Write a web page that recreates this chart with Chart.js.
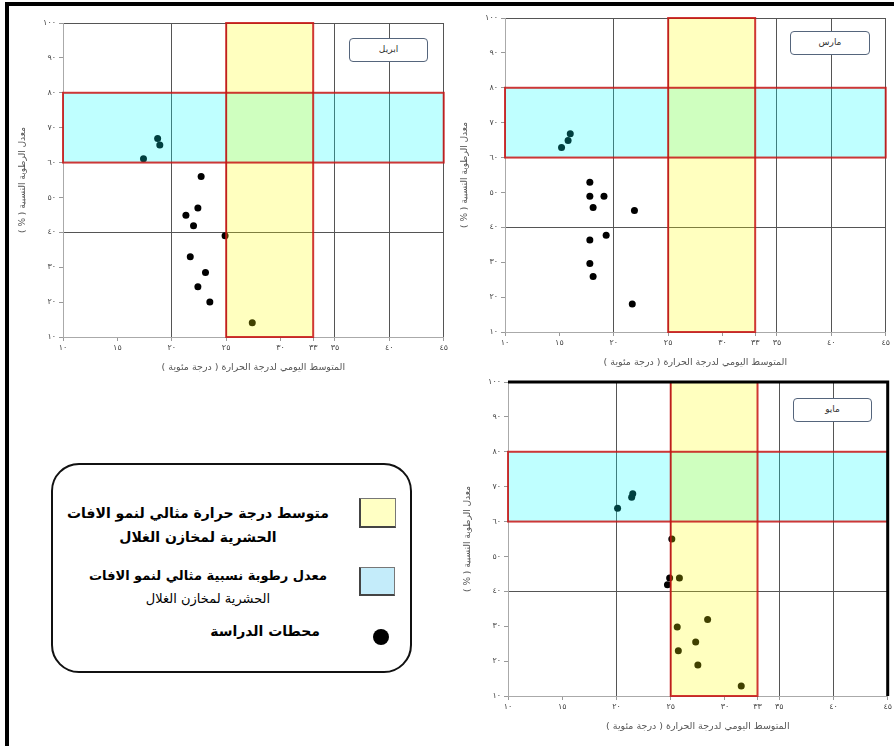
<!DOCTYPE html>
<html lang="ar">
<head>
<meta charset="utf-8">
<script src="https://cdn.jsdelivr.net/npm/chart.js@4.4.1/dist/chart.umd.min.js"></script>
<style>
    body { margin: 0; width: 894px; height: 746px; background: #fff; position: relative; overflow: hidden; font-family: "DejaVu Sans", sans-serif; }
    .abs { position: absolute; }
    .tag { position: absolute; border: 1.5px solid #55657c; border-radius: 4px; background: #fff; font-size: 9px; color: #333; text-align: center; box-sizing: border-box; direction: rtl; }
    .legend-text { position: absolute; direction: rtl; text-align: center; color: #000; }
</style>
</head>
<body>

<!-- outer frame (left + top) -->
<div class="abs" style="left:5px;top:2px;width:4px;height:744px;background:#000"></div>
<div class="abs" style="left:5px;top:2px;width:889px;height:4px;background:#000"></div>

<canvas id="april" class="abs" dir="rtl" width="440" height="372" style="left:10px;top:8px"></canvas>
<canvas id="march" class="abs" dir="rtl" width="440" height="372" style="left:452px;top:3px"></canvas>
<canvas id="may" class="abs" dir="rtl" width="439" height="372" style="left:455px;top:367px"></canvas>

<div class="tag" style="left:349px;top:38px;width:79px;height:24px;line-height:21px">ابريل</div>
<div class="tag" style="left:790px;top:31px;width:80px;height:24px;line-height:21px">مارس</div>
<div class="tag" style="left:793px;top:398px;width:79px;height:24px;line-height:21px">مايو</div>

<!-- legend -->
<div class="abs" style="left:51px;top:463px;width:361px;height:210px;border:2px solid #111;border-radius:28px;box-sizing:border-box"></div>
<div class="abs" style="left:359px;top:498px;width:37px;height:30px;background:#ffffc4;border:1px solid #777;border-left:2px solid #444;border-bottom:2px solid #444;box-sizing:border-box"></div>
<div class="abs" style="left:359px;top:567px;width:36px;height:29px;background:#c4ecfa;border:1px solid #777;border-left:2px solid #444;border-bottom:2px solid #444;box-sizing:border-box"></div>
<div class="abs" style="left:373px;top:629px;width:16px;height:16px;border-radius:50%;background:#000"></div>

<div class="legend-text" style="left:48px;top:501px;width:300px;font-size:14px;font-weight:bold;line-height:24px">متوسط درجة حرارة مثالي لنمو الافات<br>الحشرية لمخازن الغلال</div>
<div class="legend-text" style="left:58px;top:564px;width:300px;line-height:22px"><b style="font-size:13px">معدل رطوبة نسبية مثالي لنمو الافات</b><br><span style="font-size:13px">الحشرية لمخازن الغلال</span></div>
<div class="legend-text" style="left:150px;top:623px;width:170px;font-size:14px;font-weight:bold;text-align:right">محطات الدراسة</div>

<script>
// محاور
const xTicks = [10, 15, 20, 25, 30, 33, 35, 40, 45];
const yTicks = [10, 20, 30, 40, 50, 60, 70, 80, 90, 100];
const xGridLines = [20, 25, 35, 40, 45];
const yGridLines = [40, 100];

// النطاق المثالي
const tempRange = [25, 33];
const humRange = [60, 80];

// ابريل
const aprilTemp = [18.7, 18.9, 17.4, 22.7, 22.4, 21.3, 22.0, 24.9, 21.7, 23.1, 22.4, 23.5, 27.4];
const aprilHum  = [66.9, 65.0, 61.1, 56.0, 47.0, 44.9, 41.9, 39.0, 33.0, 28.5, 24.4, 20.0, 14.1];

// مارس
const marchTemp = [16.0, 15.8, 15.2, 17.8, 17.8, 19.1, 18.1, 21.9, 19.3, 17.8, 17.8, 18.1, 21.7];
const marchHum  = [66.8, 64.9, 62.9, 52.9, 48.9, 48.9, 45.7, 44.8, 37.7, 36.4, 29.6, 25.9, 18.0];

// مايو
const mayTemp = [21.5, 21.4, 20.1, 25.1, 24.9, 25.8, 24.7, 28.4, 25.6, 27.3, 25.7, 27.5, 31.5];
const mayHum  = [68.0, 67.0, 63.8, 55.0, 43.8, 43.8, 41.9, 31.9, 29.8, 25.5, 23.0, 18.9, 12.9];

const toArabicDigits = (n) => String(n).replace(/\d/g, d => '٠١٢٣٤٥٦٧٨٩'[d]);

// المستطيلات الملونة فوق النقاط (شفافة)
const bands = {
    id: 'bands',
    afterDatasetsDraw: (chart, args, opts) => {
        const { ctx, chartArea: a, scales: { x, y } } = chart;
        const x0 = x.getPixelForValue(tempRange[0]);
        const x1 = x.getPixelForValue(tempRange[1]);
        const yTop = y.getPixelForValue(humRange[1]);
        const yBot = y.getPixelForValue(humRange[0]);

        ctx.save();
        ctx.fillStyle = 'rgba(0,255,255,0.25)';
        ctx.fillRect(a.left, yTop, a.right - a.left, yBot - yTop);
        ctx.fillStyle = 'rgba(255,255,0,0.25)';
        ctx.fillRect(x0, a.top, x1 - x0, a.bottom - a.top);

        ctx.lineWidth = 2;
        ctx.strokeStyle = 'rgba(200,20,20,0.85)';
        ctx.strokeRect(a.left, yTop, a.right - a.left, yBot - yTop);
        ctx.strokeRect(x0, a.top, x1 - x0, a.bottom - a.top);

        if (opts.frame) {
            ctx.lineWidth = 3;
            ctx.strokeStyle = '#000';
            ctx.beginPath();
            ctx.moveTo(a.left, a.top);
            ctx.lineTo(a.right, a.top);
            ctx.lineTo(a.right, a.bottom);
            ctx.stroke();
        }
        ctx.restore();
    }
};

function makeChart(id, temps, hums, frame) {
    const points = temps.map((t, i) => ({ x: t, y: hums[i] }));
    return new Chart(document.getElementById(id), {
        type: 'scatter',
        data: {
            datasets: [{
                data: points,
                backgroundColor: '#000',
                borderWidth: 0,
                pointRadius: 3.5,
            }]
        },
        options: {
            responsive: false,
            animation: false,
            layout: { padding: { top: 15, right: 6, left: 0, bottom: 0 } },
            plugins: {
                legend: { display: false },
                tooltip: { enabled: false },
                bands: { frame: frame }
            },
            scales: {
                x: {
                    type: 'linear',
                    min: 10,
                    max: 45,
                    afterBuildTicks: (scale) => { scale.ticks = xTicks.map(v => ({ value: v })); },
                    afterFit: (scale) => { scale.height = 43; },
                    ticks: {
                        autoSkip: false,
                        maxRotation: 0,
                        padding: 2,
                        color: '#444',
                        font: { family: 'DejaVu Sans', size: 8 },
                        callback: (v) => toArabicDigits(v)
                    },
                    grid: {
                        color: (c) => xGridLines.includes(c.tick && c.tick.value) ? '#555' : 'rgba(0,0,0,0)',
                        tickColor: '#999',
                        tickLength: 4
                    },
                    border: { color: '#aaa', width: 1 },
                    title: {
                        display: true,
                        text: 'المتوسط اليومي لدرجة الحرارة ( درجة مئوية )',
                        color: '#555',
                        font: { family: 'DejaVu Sans', size: 9.5 },
                        padding: { top: 0, bottom: 7 }
                    }
                },
                y: {
                    min: 10,
                    max: 100,
                    afterBuildTicks: (scale) => { scale.ticks = yTicks.map(v => ({ value: v })); },
                    afterFit: (scale) => { scale.width = 53; },
                    ticks: {
                        padding: 3,
                        color: '#444',
                        font: { family: 'DejaVu Sans', size: 8 },
                        callback: (v) => toArabicDigits(v)
                    },
                    grid: {
                        color: (c) => yGridLines.includes(c.tick && c.tick.value) ? '#555' : 'rgba(0,0,0,0)',
                        tickColor: '#999',
                        tickLength: 4
                    },
                    border: { color: '#aaa', width: 1 },
                    title: {
                        display: true,
                        text: 'معدل الرطوبة النسبية ( % )',
                        color: '#555',
                        font: { family: 'DejaVu Sans', size: 9 },
                        padding: { top: 7, bottom: 0 }
                    }
                }
            }
        },
        plugins: [bands]
    });
}

makeChart('april', aprilTemp, aprilHum, false);
makeChart('march', marchTemp, marchHum, false);
makeChart('may', mayTemp, mayHum, true);
</script>
</body>
</html>
